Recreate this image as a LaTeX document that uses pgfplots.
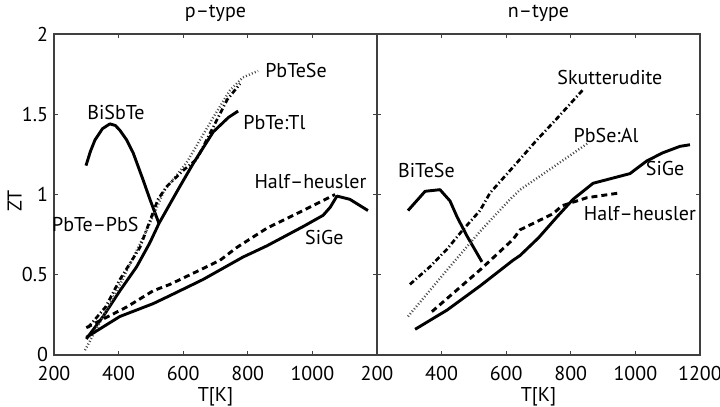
\documentclass[border=0pt]{standalone}
\usepackage{fontspec}
\setmainfont{PT Sans}
\usepackage{pgfplots}
\pgfplotsset{compat=1.18}
\begin{document}
\fontsize{10}{12}\selectfont
\begin{tikzpicture}
\tikzset{lab/.style={font=\fontsize{10}{12}\selectfont, inner sep=0pt}}
\pgfplotsset{
  panel/.style={
    anchor=south west,
    scale only axis, width=161.5pt, height=160.5pt,
    xmin=200, xmax=1200, ymin=0, ymax=2,
    xtick={200,400,600,800,1000,1200}, ytick={0,0.5,1,1.5,2},
    tick align=inside, major tick length=2pt,
    axis line style={black!75, line width=0.7pt},
    tick style={black!75, line width=0.6pt},
    /pgf/number format/assume math mode=true,
    /pgf/number format/1000 sep={},
    tick label style={font=\fontsize{10}{12}\selectfont},
    xticklabel style={anchor=base, yshift=-13pt},
    yticklabel style={xshift=0.5pt},
    label style={font=\fontsize{10}{12}\selectfont},
    xlabel style={at={(axis description cs:0.5,0)}, anchor=base, yshift=-23.5pt},
    ylabel style={at={(axis description cs:-0.122,0.48)}, anchor=center},
    title style={font=\fontsize{10}{12}\selectfont, at={(axis description cs:0.5,1)}, anchor=base, yshift=2pt},
    clip=false,
  },
  sol/.style={black, line width=1.45pt, line join=round},
  dsh/.style={black, line width=1.45pt, dash pattern=on 3pt off 2pt},
  dd/.style={black, line width=1.35pt, dash pattern=on 2.6pt off 1.3pt on 0.6pt off 1.3pt},
  dt/.style={black!70, line width=1.2pt, dash pattern=on 0.5pt off 1.1pt},
}
\begin{axis}[panel, at={(0,0)},
  xticklabels={200,400,600,800,1000,{}},
  title={p--type}, xlabel={T[K]}, ylabel={ZT}]
\addplot[sol] coordinates {(299,1.18)(313,1.27)(327,1.34)(350,1.41)(373,1.44)(390,1.43)(404,1.40)(425,1.34)(445,1.26)(476,1.09)(497,0.97)(525,0.82)};
\addplot[sol] coordinates {(300,0.10)(352,0.24)(404,0.40)(456,0.55)(497,0.70)(525,0.82)(584,1.03)(630,1.19)(693,1.39)(740,1.48)(770,1.52)};
\addplot[dt] coordinates {(296,0.03)(400,0.42)(497,0.82)(540,1.02)(611,1.20)(693,1.48)(745,1.65)(785,1.73)(832,1.77)};
\addplot[dd] coordinates {(305,0.17)(360,0.30)(404,0.47)(466,0.67)(522,0.97)(549,1.05)(600,1.15)(642,1.22)(693,1.42)(736,1.59)(776,1.69)};
\addplot[dsh] coordinates {(300,0.17)(426,0.30)(507,0.40)(559,0.44)(611,0.49)(714,0.59)(766,0.67)(859,0.79)(971,0.90)(1070,1.00)};
\addplot[sol] coordinates {(300,0.11)(404,0.24)(507,0.32)(559,0.37)(661,0.47)(785,0.61)(859,0.68)(971,0.80)(1033,0.87)(1055,0.92)(1076,0.99)(1116,0.97)(1172,0.90)};
\node[lab] at (axis cs:392,1.51) {BiSbTe};
\node[lab, anchor=west] at (axis cs:853,1.77) {PbTeSe};
\node[lab, anchor=west] at (axis cs:785,1.45) {PbTe:Tl};
\node[lab] at (axis cs:994,1.08) {Half--heusler};
\node[lab] at (axis cs:328,0.81) {PbTe--PbS};
\node[lab] at (axis cs:1037,0.73) {SiGe};
\end{axis}
\begin{axis}[panel, at={(161.5pt,0)},
  yticklabels={}, title={n--type}, xlabel={T[K]}]
\addplot[sol] coordinates {(296,0.90)(349,1.02)(395,1.03)(426,0.96)(448,0.86)(479,0.74)(525,0.58)};
\addplot[dd] coordinates {(302,0.44)(364,0.55)(417,0.66)(466,0.78)(519,0.90)(550,1.01)(621,1.17)(695,1.34)(760,1.48)(841,1.66)};
\addplot[dt] coordinates {(296,0.24)(417,0.53)(519,0.77)(612,0.97)(643,1.03)(745,1.17)(853,1.32)};
\addplot[dsh] coordinates {(370,0.27)(519,0.53)(621,0.72)(643,0.78)(745,0.88)(773,0.93)(850,0.98)(952,1.01)};
\addplot[sol] coordinates {(318,0.16)(417,0.28)(519,0.43)(621,0.59)(643,0.62)(700,0.73)(757,0.86)(807,0.97)(869,1.07)(983,1.13)(1036,1.21)(1085,1.26)(1138,1.30)(1169,1.31)};
\node[lab] at (axis cs:921,1.73) {Skutterudite};
\node[lab] at (axis cs:909,1.37) {PbSe:Al};
\node[lab] at (axis cs:353,1.15) {BiTeSe};
\node[lab] at (axis cs:1092,1.16) {SiGe};
\node[lab] at (axis cs:1014,0.88) {Half--heusler};
\end{axis}
\pgfresetboundingbox
\useasboundingbox (-27pt,-26pt) rectangle (333pt,177.5pt);
\end{tikzpicture}
\end{document}
